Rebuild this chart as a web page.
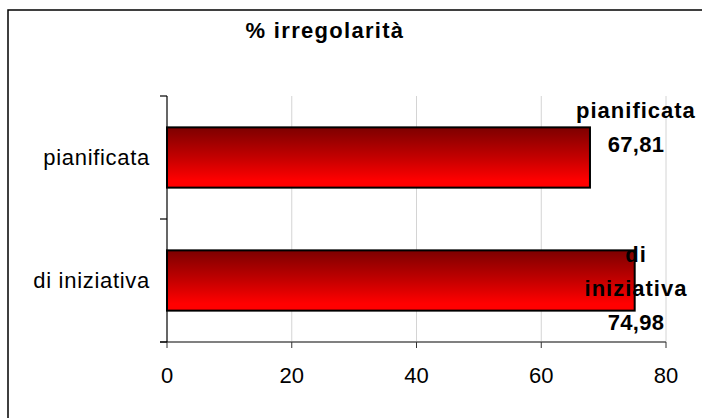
<!DOCTYPE html>
<html>
<head>
<meta charset="utf-8">
<script src="https://cdn.jsdelivr.net/npm/d3@7"></script>
<style>
  body { margin: 0; background: #fff; }
  text { font-family: Arial, 'Liberation Sans', sans-serif; fill: #000; }
</style>
</head>
<body>
<div id="chart"></div>
<script>
var categories = ['pianificata', 'di iniziativa']
var values = [67.81, 74.98]
var xTicks = [0, 20, 40, 60, 80]
var title = '% irregolarità'

var margin = { top: 96, left: 167, right: 36, bottom: 76 }
var width = 702 - margin.left - margin.right
var height = 418 - margin.top - margin.bottom

var svgRoot = d3
  .select('#chart')
  .append('svg')
  .attr('width', 702)
  .attr('height', 418)

// outer frame (cut off on the right and at the bottom)
svgRoot
  .append('rect')
  .attr('x', 8)
  .attr('y', 10)
  .attr('width', 720)
  .attr('height', 440)
  .attr('fill', 'none')
  .attr('stroke', '#000')
  .attr('stroke-width', 1.5)

svgRoot
  .append('text')
  .attr('x', 325)
  .attr('y', 38)
  .attr('text-anchor', 'middle')
  .attr('font-size', 22)
  .attr('font-weight', 700)
  .attr('letter-spacing', 1.3)
  .text(title)

var defs = svgRoot.append('defs')
var grad = defs
  .append('linearGradient')
  .attr('id', 'barFill')
  .attr('x1', 0)
  .attr('y1', 0)
  .attr('x2', 0)
  .attr('y2', 1)
grad.append('stop').attr('offset', '0%').attr('stop-color', '#7d0000')
grad.append('stop').attr('offset', '50%').attr('stop-color', '#c40000')
grad.append('stop').attr('offset', '88%').attr('stop-color', '#ff0000')

var svg = svgRoot
  .append('g')
  .attr('transform', 'translate(' + margin.left + ',' + margin.top + ')')

var xScale = d3
  .scaleLinear()
  .domain([0, 80])
  .range([0, width])

var yScale = d3
  .scaleBand()
  .domain(categories)
  .range([0, height])
  .paddingInner(0.51)
  .paddingOuter(0.255)

var itFormat = d3.formatLocale({
  decimal: ',',
  thousands: '.',
  grouping: [3],
  currency: ['', '€']
}).format('.2f')

// gridlines
svg
  .selectAll('.grid')
  .data(xTicks.slice(1))
  .enter()
  .append('line')
  .attr('class', 'grid')
  .attr('x1', d => xScale(d))
  .attr('x2', d => xScale(d))
  .attr('y1', 0)
  .attr('y2', height)
  .attr('stroke', '#d4d4d4')
  .attr('stroke-width', 1)

// x axis
svg
  .append('line')
  .attr('x1', -7)
  .attr('x2', width)
  .attr('y1', height)
  .attr('y2', height)
  .attr('stroke', '#808080')
  .attr('stroke-width', 2)

svg
  .selectAll('.xtick')
  .data(xTicks)
  .enter()
  .append('line')
  .attr('class', 'xtick')
  .attr('x1', d => xScale(d))
  .attr('x2', d => xScale(d))
  .attr('y1', height)
  .attr('y2', height + 6)
  .attr('stroke', '#333')
  .attr('stroke-width', 1)

svg
  .selectAll('.xlabel')
  .data(xTicks)
  .enter()
  .append('text')
  .attr('class', 'xlabel')
  .attr('x', d => xScale(d))
  .attr('y', height + 41)
  .attr('text-anchor', 'middle')
  .attr('font-size', 22)
  .text(d => d)

// y axis with ticks on band boundaries
var step = yScale.step()
var boundaries = d3.range(categories.length + 1).map(i => i * step)

svg
  .selectAll('.ytick')
  .data(boundaries)
  .enter()
  .append('line')
  .attr('class', 'ytick')
  .attr('x1', -7)
  .attr('x2', 0)
  .attr('y1', d => d)
  .attr('y2', d => d)
  .attr('stroke', '#000')
  .attr('stroke-width', 1.2)

svg
  .selectAll('.ylabel')
  .data(categories)
  .enter()
  .append('text')
  .attr('class', 'ylabel')
  .attr('x', -17)
  .attr('y', d => yScale(d) + yScale.bandwidth() / 2 + 7)
  .attr('text-anchor', 'end')
  .attr('font-size', 22)
  .attr('letter-spacing', 0.7)
  .text(d => d)

// bars
svg
  .selectAll('.bar')
  .data(values)
  .enter()
  .append('rect')
  .attr('class', 'bar')
  .attr('x', 0)
  .attr('y', (d, i) => yScale(categories[i]))
  .attr('width', d => xScale(d))
  .attr('height', yScale.bandwidth())
  .attr('fill', 'url(#barFill)')
  .attr('stroke', '#000')
  .attr('stroke-width', 2)

svg
  .append('line')
  .attr('x1', 0)
  .attr('x2', 0)
  .attr('y1', 0)
  .attr('y2', height)
  .attr('stroke', '#000')
  .attr('stroke-width', 1.2)

// data labels: category name (wrapped if long) + value
var labelDy = [-40, -19]
var lineHeight = 34

values.forEach(function(v, i) {
  var name = categories[i]
  var lines = name.length > 12 ? name.split(' ') : [name]
  lines.push(itFormat(v))
  var lx = Math.min(xScale(v) + 46, xScale(80) - 30)
  var cy = yScale(name) + yScale.bandwidth() / 2

  svg
    .append('g')
    .selectAll('text')
    .data(lines)
    .enter()
    .append('text')
    .attr('x', lx)
    .attr('y', (d, j) => cy + labelDy[i] + j * lineHeight)
    .attr('text-anchor', 'middle')
    .attr('font-size', 22)
    .attr('font-weight', 700)
    .attr('letter-spacing', (d, j) => (j === lines.length - 1 ? 0.3 : 1))
    .text(d => d)
})
</script>
</body>
</html>
